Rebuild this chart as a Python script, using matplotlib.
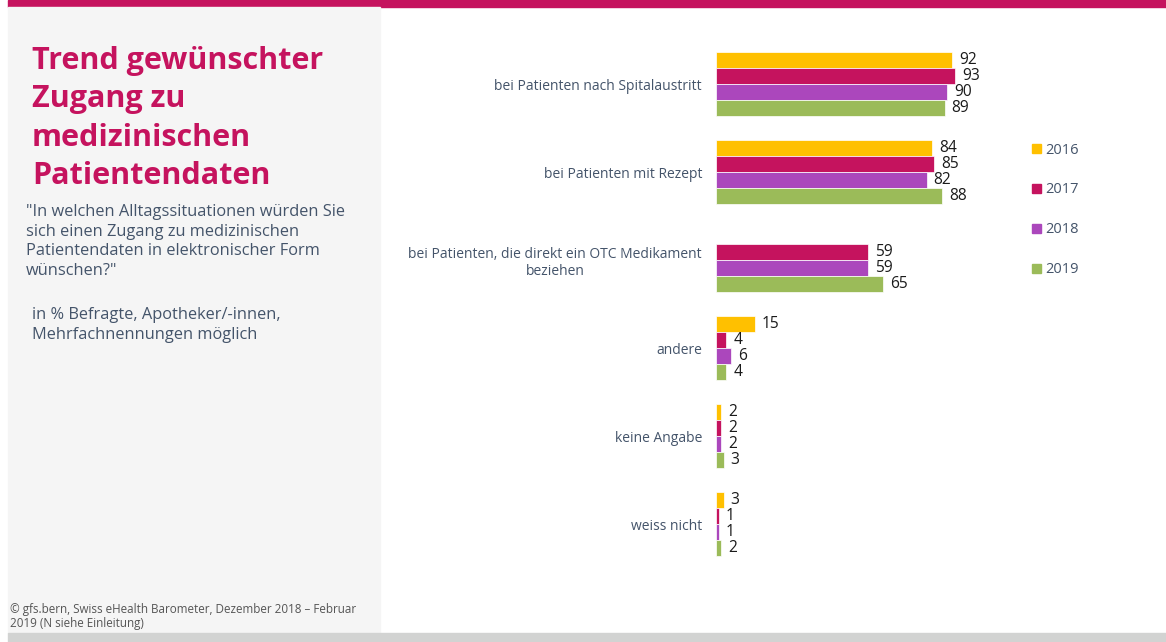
import numpy as np
import matplotlib
matplotlib.use("Agg")
from matplotlib import pyplot as plt
from matplotlib.patches import Rectangle

plt.rcParams['font.family'] = ['Open Sans', 'DejaVu Sans']

categories = ['bei Patienten nach Spitalaustritt',
              'bei Patienten mit Rezept',
              'bei Patienten, die direkt ein OTC Medikament\nbeziehen',
              'andere',
              'keine Angabe',
              'weiss nicht']
years = ['2016', '2017', '2018', '2019']
v2016 = [92, 84, None, 15, 2, 3]
v2017 = [93, 85, 59, 4, 2, 1]
v2018 = [90, 82, 59, 6, 2, 1]
v2019 = [89, 88, 65, 4, 3, 2]
colors = ['#FFC000', '#C5135E', '#AB47BC', '#9BBB59']

title = 'Trend gewünschter\nZugang zu\nmedizinischen\nPatientendaten'
question = ('"In welchen Alltagssituationen würden Sie\nsich einen Zugang zu medizinischen\n'
            'Patientendaten in elektronischer Form\nwünschen?"')
basis = 'in % Befragte, Apotheker/-innen,\nMehrfachnennungen möglich'
source = '© gfs.bern, Swiss eHealth Barometer, Dezember 2018 – Februar\n2019 (N siehe Einleitung)'

W, H = 1166, 642
fig = plt.figure(figsize=(W / 100, H / 100), dpi=100)
fig.patch.set_facecolor('white')

def px_rect(x, y, w, h, color):
    # rectangle in pixel units, measured from the top-left corner
    fig.patches.append(Rectangle((x / W, 1 - (y + h) / H), w / W, h / H,
                                 transform=fig.transFigure, color=color, zorder=0))

px_rect(8, 0, W - 8, 7, '#C5135E')
px_rect(8, 7, 372, 626, '#F5F5F5')
px_rect(8, 633, W - 8, 9, '#D2D3D2')

text_col = '#44546A'
fig.text(32 / W, 1 - 46 / H, title, color='#C5135E', fontsize=22, fontweight='bold',
         va='top', ha='left', linespacing=1.36)
fig.text(26 / W, 1 - 204 / H, question, color=text_col, fontsize=11.8,
         va='top', ha='left', linespacing=1.3)
fig.text(32 / W, 1 - 307 / H, basis, color=text_col, fontsize=11.8,
         va='top', ha='left', linespacing=1.3)
fig.text(10 / W, 1 - 603 / H, source, color='#555555', fontsize=8.4,
         va='top', ha='left', linespacing=1.1)

# bar area
ax = fig.add_axes([716 / W, 1 - 568 / H, 257 / W, 528 / H])
ax.set_xlim(0, 100)
ax.set_ylim(len(categories) - 0.5, -0.5)
bh = 16 / 88
y = np.arange(len(categories))
for k, (vals, col) in enumerate(zip([v2016, v2017, v2018, v2019], colors)):
    vv = np.array([np.nan if v is None else v for v in vals], dtype=float)
    bars = ax.barh(y + (k - 1.5) * bh, vv, height=bh, color=col,
                   edgecolor='white', linewidth=0.5)
    labels = ['' if v is None else str(v) for v in vals]
    ax.bar_label(bars, labels=labels, padding=5, fontsize=11.2, color='#1a1a1a')

ax.set_yticks(y)
ax.set_yticklabels(categories, fontsize=10, color=text_col)
for lbl in ax.get_yticklabels():
    lbl.set_multialignment('center')
ax.tick_params(axis='y', length=0, pad=10)
ax.set_xticks([])
for s in ax.spines.values():
    s.set_visible(False)
ax.patch.set_alpha(0)

# legend
for i, (yr, col) in enumerate(zip(years, colors)):
    ly = 149 + i * 39.7
    px_rect(1032, ly - 4.5, 9, 9, col)
    fig.text(1045 / W, 1 - (ly + 1) / H, yr, color=text_col, fontsize=10.5,
             va='center', ha='left')

fig.savefig('out.png', dpi=100)
